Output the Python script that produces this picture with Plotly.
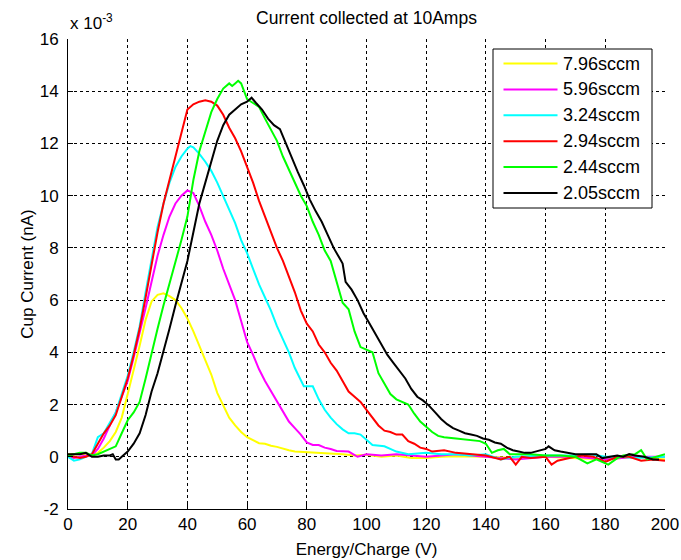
import plotly.graph_objects as go

# ---------------- data (values in units of 1e-3 nA) ----------------
names = ["7.96sccm", "5.96sccm", "3.24sccm", "2.94sccm", "2.44sccm", "2.05sccm"]
colors = ["#FFFF00", "#FF00FF", "#00FFFF", "#FF0000", "#00FF00", "#000000"]

x_796 = [0, 2, 4, 6, 8, 10, 12, 14, 16, 18, 20, 22, 24, 26, 28, 30, 32, 34, 36, 38, 40, 42, 44, 46, 48, 50,
         52, 54, 56, 58, 60, 62, 64, 66, 68, 70, 72, 74, 76, 80, 84, 88, 92, 96, 100, 105, 110, 115, 120, 125,
         130, 140, 150, 160, 170, 180, 190, 200]
y_796 = [0.1, 0.1, 0.12, 0.1, 0.05, 0.15, 0.35, 0.6, 0.95, 1.5, 2.4, 3.3, 4.25, 5.25, 5.95, 6.2, 6.26, 6.15,
         6.0, 5.7, 5.3, 4.8, 4.25, 3.7, 3.15, 2.45, 1.95, 1.5, 1.2, 0.95, 0.75, 0.62, 0.52, 0.5, 0.42, 0.38,
         0.3, 0.25, 0.2, 0.18, 0.15, 0.12, 0.1, 0.05, 0.08, 0.0, 0.05, -0.05, -0.05, 0.0, 0.02, 0.0, -0.05,
         0.0, -0.05, -0.1, 0.0, -0.1]

x_596 = [0, 2, 4, 6, 8, 10, 12, 14, 16, 18, 20, 22, 24, 26, 28, 30, 32, 34, 36, 38, 40, 42, 44, 46, 48, 50,
         52, 54, 56, 58, 60, 62, 64, 66, 68, 70, 72, 74, 76, 78, 80, 82, 84, 86, 88, 90, 94, 97, 100, 105,
         110, 115, 120, 125, 130, 140, 150, 160, 170, 180, 190, 200]
y_596 = [0.0, -0.05, 0.0, 0.05, 0.05, 0.3, 0.7, 1.2, 1.7, 2.3, 2.9, 3.8, 4.7, 5.7, 6.7, 7.7, 8.5, 9.2, 9.7,
         10.0, 10.2, 10.1, 9.6, 9.0, 8.5, 7.9, 7.2, 6.6, 6.0, 5.2, 4.4, 3.9, 3.35, 2.9, 2.5, 2.1, 1.7, 1.35,
         1.1, 0.85, 0.55, 0.45, 0.45, 0.35, 0.3, 0.22, 0.2, 0.0, 0.1, 0.05, 0.1, 0.05, 0.0, 0.05, 0.1, 0.0,
         -0.1, 0.0, 0.0, -0.1, 0.0, 0.0]

x_324 = [0, 2, 4, 6, 8, 10, 12, 14, 16, 18, 20, 22, 24, 26, 28, 30, 32, 34, 36, 38, 40, 41, 42, 44, 46, 48,
         50, 52, 54, 56, 58, 60, 62, 64, 66, 68, 70, 72, 74, 76, 78, 79, 82, 84, 86, 88, 90, 92, 94, 96, 98,
         100, 102, 106, 110, 114, 120, 125, 130, 135, 140, 145, 150, 160, 165, 170, 175, 180, 185, 190, 200]
y_324 = [0.0, -0.15, -0.1, 0.0, 0.1, 0.75, 0.9, 1.3, 1.7, 2.4, 3.1, 4.0, 5.0, 6.3, 7.6, 8.8, 9.7, 10.5, 11.1,
         11.5, 11.8, 11.9, 11.85, 11.6, 11.3, 10.95, 10.5, 10.0, 9.5, 8.95, 8.3, 7.8, 7.2, 6.6, 6.1, 5.6, 5.0,
         4.5, 4.0, 3.4, 2.9, 2.7, 2.7, 2.2, 1.8, 1.5, 1.25, 1.05, 0.9, 0.9, 0.85, 0.65, 0.45, 0.4, 0.2, 0.1,
         0.15, 0.1, 0.1, 0.05, 0.1, -0.1, 0.0, 0.05, 0.05, 0.05, 0.1, 0.0, 0.0, -0.05, 0.0]

x_294 = [0, 2, 4, 6, 8, 10, 12, 14, 16, 18, 20, 22, 24, 26, 28, 30, 32, 34, 36, 38, 40, 42, 44, 46, 48, 50,
         52, 54, 56, 58, 60, 62, 64, 66, 68, 70, 72, 74, 76, 78, 80, 82, 84, 86, 88, 90, 92, 94, 96, 98, 100,
         102, 104, 106, 108, 110, 112, 114, 116, 118, 120, 122, 126, 130, 135, 140, 145, 148, 150, 152, 155,
         160, 162, 164, 168, 172, 176, 180, 184, 188, 192, 196, 200]
y_294 = [0.05, 0.0, -0.05, 0.0, 0.1, 0.5, 0.9, 1.2, 1.6, 2.3, 3.0, 3.9, 4.9, 6.1, 7.4, 8.6, 9.7, 10.6, 11.5,
         12.5, 13.3, 13.5, 13.6, 13.65, 13.6, 13.45, 13.1, 12.6, 12.2, 11.7, 11.1, 10.5, 9.8, 9.2, 8.6, 8.0,
         7.5, 6.9, 6.3, 5.6, 5.1, 4.8, 4.3, 4.0, 3.6, 3.3, 2.9, 2.5, 2.3, 2.1, 1.8, 1.5, 1.2, 1.0, 0.95, 0.85,
         0.85, 0.6, 0.5, 0.35, 0.3, 0.2, 0.25, 0.15, 0.1, 0.05, -0.1, 0.0, -0.3, 0.0, -0.05, 0.0, -0.3, -0.15,
         -0.05, 0.05, 0.0, -0.2, 0.0, 0.0, -0.15, -0.1, -0.15]

x_244 = [0, 2, 4, 6, 8, 10, 12, 14, 16, 18, 20, 22, 24, 26, 28, 30, 32, 34, 36, 38, 40, 42, 44, 46, 48, 50,
         52, 54, 55, 56, 57, 58, 60, 62, 64, 66, 68, 70, 72, 74, 76, 78, 80, 82, 84, 86, 88, 90, 92, 94, 96,
         98, 100, 102, 104, 106, 108, 110, 112, 114, 116, 118, 120, 122, 124, 126, 130, 134, 138, 140, 142,
         144, 146, 148, 150, 155, 160, 165, 170, 174, 177, 181, 184, 186, 190, 192, 194, 197, 200]
y_244 = [0.05, 0.1, 0.15, 0.15, 0.05, 0.1, 0.2, 0.3, 0.4, 0.9, 1.4, 1.7, 2.1, 3.0, 4.0, 4.9, 5.8, 6.6, 7.4,
         8.3, 9.2, 10.6, 11.7, 12.5, 13.2, 13.7, 14.1, 14.3, 14.2, 14.3, 14.4, 14.3, 13.7, 13.55, 13.4, 12.95,
         12.5, 12.1, 11.5, 11.0, 10.45, 10.0, 9.6, 9.0, 8.5, 7.9, 7.5, 6.7, 5.9, 5.65, 4.8, 4.2, 4.1, 4.0, 3.2,
         2.8, 2.4, 2.2, 2.1, 2.0, 1.65, 1.35, 1.15, 0.95, 0.8, 0.75, 0.7, 0.65, 0.6, 0.5, 0.15, 0.25, 0.3,
         0.1, 0.1, 0.1, 0.05, 0.05, 0.0, -0.25, -0.1, -0.3, -0.05, 0.05, 0.1, 0.25, -0.1, 0.0, 0.1]

x_205 = [0, 2, 4, 6, 8, 10, 12, 14, 15, 16, 17, 18, 20, 22, 24, 26, 28, 30, 32, 34, 36, 38, 40, 42, 44, 46,
         48, 50, 52, 54, 56, 58, 60, 61.5, 63, 65, 67, 69, 71, 73, 75, 77, 79, 81, 83, 85, 87, 89, 91, 92, 93,
         95, 97, 99, 101, 103, 105, 107, 109, 111, 113, 115, 117, 119, 121, 123, 125, 127, 129, 131, 133, 135,
         137, 139, 141, 143, 145, 147, 149, 151, 153, 155, 158, 160, 161, 163, 165, 167, 170, 174, 177, 179,
         181, 184, 186, 188, 190, 193, 196, 198]
y_205 = [0.1, 0.1, 0.1, 0.15, 0.0, 0.0, 0.05, 0.05, 0.1, -0.1, -0.1, 0.0, 0.2, 0.5, 0.9, 1.6, 2.5, 3.2, 4.0,
         4.9, 5.8, 6.6, 7.5, 8.6, 9.7, 10.5, 11.3, 12.1, 12.7, 13.1, 13.3, 13.5, 13.6, 13.75, 13.55, 13.3,
         12.95, 12.7, 12.55, 12.0, 11.4, 10.9, 10.4, 9.85, 9.4, 9.0, 8.5, 8.0, 7.6, 7.4, 6.7, 6.4, 6.0, 5.5,
         5.1, 4.7, 4.3, 3.9, 3.6, 3.3, 3.0, 2.6, 2.3, 2.15, 1.95, 1.7, 1.45, 1.25, 1.1, 1.0, 0.9, 0.85, 0.8,
         0.7, 0.65, 0.55, 0.5, 0.35, 0.25, 0.2, 0.15, 0.15, 0.25, 0.3, 0.4, 0.25, 0.2, 0.15, 0.1, 0.1, 0.1,
         -0.05, 0.0, 0.05, 0.0, 0.1, 0.05, 0.0, -0.1, -0.1]

xs = [x_796, x_596, x_324, x_294, x_244, x_205]
ys = [y_796, y_596, y_324, y_294, y_244, y_205]

x_ticks = [0, 20, 40, 60, 80, 100, 120, 140, 160, 180, 200]
y_ticks = [-2, 0, 2, 4, 6, 8, 10, 12, 14, 16]

FONT = "Liberation Sans, Arial, sans-serif"

# figure geometry (pixels)
W, H = 681, 560
ML, MR, MT, MB = 68, 16, 39, 51
PW, PH = W - ML - MR, H - MT - MB


def px_x(p):
    return (p - ML) / PW


def px_y(p):
    return (H - MB - p) / PH


fig = go.Figure()
for i in range(len(names)):
    fig.add_trace(go.Scatter(
        x=xs[i], y=ys[i], mode="lines", name=names[i],
        line=dict(color=colors[i], width=2), showlegend=False,
    ))

axis_common = dict(
    showgrid=True, gridcolor="black", gridwidth=1, griddash="3px,3px",
    showline=True, linecolor="black", linewidth=1,
    ticks="inside", ticklen=5, tickcolor="black", tickwidth=1,
    zeroline=False, mirror=False, automargin=False,
    tickfont=dict(family=FONT, size=17, color="black"),
)

fig.update_layout(
    width=W, height=H,
    margin=dict(l=ML, r=MR, t=MT, b=MB, autoexpand=False),
    paper_bgcolor="white", plot_bgcolor="white",
    font=dict(family=FONT, size=17, color="black"),
    title=dict(text="Current collected at 10Amps", x=0.5, xref="paper",
               y=1 - 18 / H, yref="container", yanchor="middle",
               font=dict(family=FONT, size=17.5, color="black")),
    xaxis=dict(range=[0, 200], tickvals=x_ticks, ticktext=[str(v) for v in x_ticks],
               title=dict(text="Energy/Charge (V)", standoff=9,
                          font=dict(family=FONT, size=17, color="black")),
               **axis_common),
    yaxis=dict(range=[-2, 16], tickvals=y_ticks, ticktext=[str(v) for v in y_ticks],
               ticklabelstandoff=5,
               title=dict(text="Cup Current (nA)", standoff=1,
                          font=dict(family=FONT, size=17, color="black")),
               **axis_common),
    showlegend=False,
)

# exponent label
fig.add_annotation(
    text="x 10<sup>-3</sup>", xref="paper", yref="paper", x=0, y=1,
    xanchor="left", yanchor="bottom", yshift=4, showarrow=False,
    font=dict(family=FONT, size=17, color="black"),
)

# MATLAB-style legend box
LX0, LX1, LY0, LY1 = 493, 652, 49, 208
fig.add_shape(type="rect", xref="paper", yref="paper",
              x0=px_x(LX0), x1=px_x(LX1), y0=px_y(LY1), y1=px_y(LY0),
              line=dict(color="black", width=1), fillcolor="white", layer="above")
for i in range(len(names)):
    cy = 63.5 + 25.9 * i
    fig.add_shape(type="line", xref="paper", yref="paper",
                  x0=px_x(503.5), x1=px_x(557.5), y0=px_y(cy), y1=px_y(cy),
                  line=dict(color=colors[i], width=2), layer="above")
    fig.add_annotation(text=names[i], xref="paper", yref="paper",
                       x=px_x(561), y=px_y(cy), xanchor="left", yanchor="middle",
                       showarrow=False, font=dict(family=FONT, size=18, color="black"))

fig.write_html("out.html")
